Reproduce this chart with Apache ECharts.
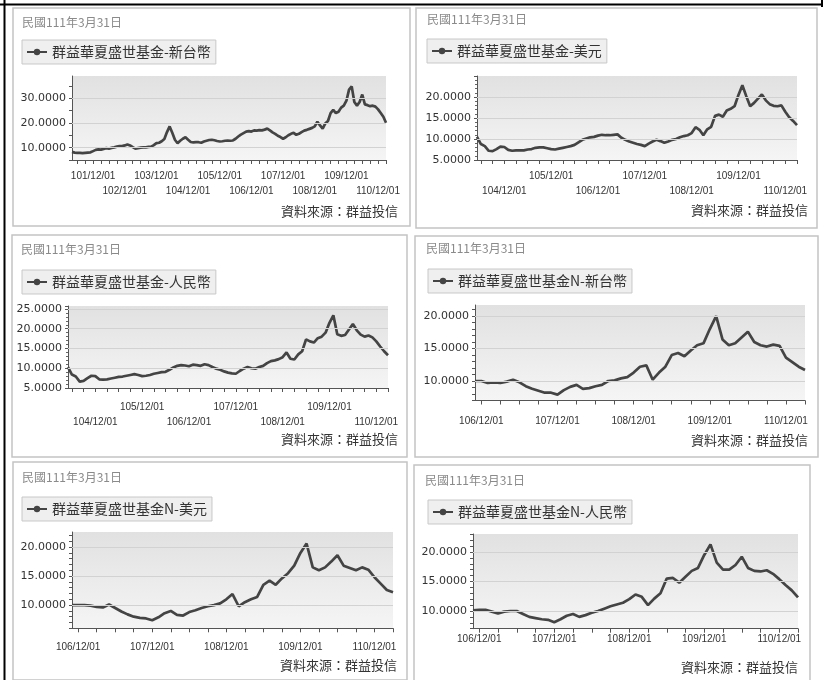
<!DOCTYPE html>
<html><head><meta charset="utf-8">
<script src="https://cdn.jsdelivr.net/npm/echarts@6/dist/echarts.min.js"></script>
<style>html,body{margin:0;padding:0;background:#fff}#c{width:825px;height:680px}</style>
</head><body><div id="c"></div>
<script>
// ---- text ----
const dateText = '民國111年3月31日';
const sourceText = '資料來源：群益投信';
const seriesNames = [
  '群益華夏盛世基金-新台幣', '群益華夏盛世基金-美元', '群益華夏盛世基金-人民幣',
  '群益華夏盛世基金N-新台幣', '群益華夏盛世基金N-美元', '群益華夏盛世基金N-人民幣'
];
// ---- category ranges (ROC year, month, count of monthly points) ----
const twdStart = [101, 4, 120];
const usdStart = [104, 5, 83];
const rmbStart = [104, 5, 83];
const nStart = [106, 11, 53];
// ---- NAV values (monthly) ----
const twdValues = [8.3,8.0,7.9,7.9,7.8,7.9,8.0,8.1, 8.6,9.1,9.3,9.2,9.5,9.8,9.6,9.9,
  10.1,10.4,10.6,10.6,10.9,11.3,10.9,10.2, 9.6,9.8,10.0,10.1,10.1,10.3,10.4,11.0,
  11.8,12.0,12.6,13.5,16.3,18.6,16.0,13.2, 11.8,12.8,13.6,14.2,13.2,12.3,12.1,12.2,
  12.2,12.0,12.5,12.8,13.1,13.2,13.0,12.7, 12.5,12.6,12.8,12.9,12.8,12.9,13.6,14.5,
  15.3,15.9,16.5,16.7,16.5,17.0,16.9,17.1, 17.0,17.3,17.7,17.0,16.2,15.6,14.8,14.3,
  13.6,14.2,15.0,15.6,16.0,15.2,15.6,16.3, 16.9,17.2,17.6,18.0,18.6,20.5,19.0,17.7,
  19.8,20.8,24.0,25.3,24.0,24.5,26.2,27.0, 29.0,33.5,34.8,28.5,27.0,28.5,31.5,27.5,
  27.2,26.8,27.0,26.6,25.5,24.0,22.5,20.1];
const usdValues = [10.5,8.8,8.3,7.2,7.1,7.6,8.2,8.1, 7.4,7.2,7.3,7.3,7.3,7.5,7.6,7.9,
  8.0,8.0,7.8,7.6,7.5,7.7,7.9,8.1, 8.3,8.6,9.2,9.8,10.1,10.4,10.5,10.8,
  11.0,10.9,10.9,11.0,11.1,10.3,9.8,9.4, 9.1,8.8,8.6,8.3,8.9,9.4,9.8,9.5,
  9.1,9.4,9.8,10.0,10.4,10.7,10.9,11.4, 12.8,12.2,10.9,12.3,12.9,15.5,15.8,15.3,
  16.8,17.2,17.8,20.5,22.8,20.2,17.8,18.6, 19.6,20.6,19.2,18.3,17.9,17.8,18.0,16.5,
  15.2,14.3,13.3];
const rmbValues = [10.3,8.4,7.9,6.6,6.8,7.5,8.1,8.0, 7.2,7.1,7.2,7.4,7.6,7.8,7.9,8.1,
  8.3,8.5,8.3,8.0,8.1,8.3,8.6,8.8, 9.0,9.1,9.6,10.2,10.6,10.8,10.7,10.5,
  10.9,10.8,10.6,11.0,10.8,10.3,9.9,9.6, 9.2,8.9,8.7,8.6,9.3,9.9,10.3,10.0,
  9.9,10.3,10.6,11.3,11.8,12.0,12.3,12.8, 14.0,12.4,12.2,13.5,14.3,17.3,16.8,16.5,
  17.6,18.0,19.0,21.5,23.4,18.6,18.2,18.4, 19.8,21.2,19.6,18.5,18.0,18.3,17.8,16.8,
  15.5,14.3,13.3];
const nTwdValues = [10.0,10.0,9.7,9.8,9.7,9.9,10.2,9.8, 9.2,8.8,8.5,8.2,8.2,7.9,8.6,9.1,
  9.4,8.8,8.9,9.2,9.4,10.0,10.1,10.4, 10.6,11.3,12.2,12.4,10.2,11.3,12.2,14.0,
  14.3,13.8,14.7,15.5,15.8,18.0,20.0,16.4, 15.5,15.8,16.7,17.6,16.0,15.5,15.3,15.6,
  15.4,13.6,12.9,12.2,11.7];
const nUsdValues = [10.0,10.0,10.0,9.9,9.7,9.6,10.1,9.5, 8.9,8.4,8.0,7.8,7.7,7.4,7.9,8.6,
  9.0,8.3,8.2,8.8,9.1,9.5,9.8,10.0, 10.3,11.0,11.9,9.8,10.5,11.0,11.4,13.5,
  14.2,13.5,14.6,15.5,16.8,19.0,20.6,16.5, 16.0,16.5,17.5,18.6,16.8,16.4,16.0,16.5,
  16.1,14.8,13.7,12.6,12.2];
const nRmbValues = [10.1,10.2,10.2,9.9,9.6,9.9,10.0,10.0, 9.5,9.0,8.8,8.6,8.5,8.1,8.6,9.2,
  9.5,9.0,9.3,9.7,10.0,10.4,10.8,11.1, 11.4,12.0,12.8,12.4,11.0,12.1,13.0,15.5,
  15.6,14.8,15.8,16.8,17.3,19.5,21.3,18.2, 17.0,17.0,17.8,19.2,17.3,16.8,16.7,16.9,
  16.3,15.4,14.4,13.5,12.3];
// ---- y axis: [min, max, tick step] and labelled tick values ----
const yRanges = [[5,39,5],[5,25,5],[5,25.75,5],[7,21.7,1],[6,22.6,1],[7,23.05,1]];
const yTicks = [[10,20,30],[5,10,15,20],[5,10,15,20,25],[10,15,20],[10,15,20],[10,15,20]];

function months(y, m, n) {
  const out = [];
  for (let i = 0; i < n; i++) {
    out.push(y + '/' + String(m).padStart(2, '0') + '/01');
    m++; if (m > 12) { m = 1; y++; }
  }
  return out;
}
const cats = [twdStart, usdStart, rmbStart, nStart, nStart, nStart].map(s => months(s[0], s[1], s[2]));
const vals = [twdValues, usdValues, rmbValues, nTwdValues, nUsdValues, nRmbValues];

// layout only
const L = [
  {box:[13,8,397,218], date:[22,22], leg:[22,40], src:[398,211], grid:[72,76,314,84], stagger:true, margin:11, minor:false},
  {box:[416,8,401,220], date:[427,19], leg:[427,39], src:[808,210], grid:[477,76,320,84], stagger:true, margin:11.5, minor:true},
  {box:[12,235,395,222], date:[21,249], leg:[22,270], src:[398,439], grid:[68,306,320,82], stagger:true, margin:14, minor:true},
  {box:[415,236,403,221], date:[426,248], leg:[428,269], src:[808,440], grid:[475,305,330,95.5], stagger:false, margin:15.5, minor:false},
  {box:[13,462,394,218], date:[22,477], leg:[22,497], src:[397,665], grid:[72,532,321,96.3], stagger:false, margin:13.5, minor:false},
  {box:[414,465,396,216], date:[425,480], leg:[428,500], src:[798,667], grid:[473,534,325,94.7], stagger:false, margin:5.5, minor:false}
];
const rowGap = 15;
const isYearLabel = v => v.slice(4,6) === '12';

const grids = [], xAxes = [], yAxes = [], series = [], legends = [], graphics = [];
L.forEach((p, i) => {
  grids.push({left:p.grid[0], top:p.grid[1], width:p.grid[2], height:p.grid[3], show:true, borderWidth:0,
    backgroundColor:{type:'linear',x:0,y:0,x2:0,y2:1,colorStops:[{offset:0,color:'#e1e1e1'},{offset:1,color:'#f5f5f5'}]}});
  const labelBase = {color:'#333', fontSize:10, fontFamily:'Liberation Sans', hideOverlap:false};
  const mainIdx = xAxes.length;
  xAxes.push({type:'category', gridIndex:i, position:'bottom', data:cats[i], boundaryGap:false,
    axisLine:{lineStyle:{color:'#555', width:1}},
    axisTick:{interval:(idx, v) => ['03','06','09','12'].includes(v.slice(4,6)), length:4, lineStyle:{color:'#555'}},
    axisLabel:Object.assign({}, labelBase, {margin:p.margin,
      interval:(idx, v) => isYearLabel(v) && (!p.stagger || parseInt(v, 10) % 2 === 1)}),
    splitLine:{show:false}});
  if (p.stagger) {
    xAxes.push({type:'category', gridIndex:i, position:'bottom', data:cats[i], boundaryGap:false,
      axisLine:{show:false}, axisTick:{show:false}, splitLine:{show:false},
      axisLabel:Object.assign({}, labelBase, {margin:p.margin + rowGap,
        interval:(idx, v) => isYearLabel(v) && parseInt(v, 10) % 2 === 0})});
  }
  const r = yRanges[i], ticks = yTicks[i];
  yAxes.push({type:'value', gridIndex:i, min:r[0], max:r[1], interval:r[2],
    axisLine:{show:true, lineStyle:{color:'#555'}},
    axisTick:{show:true, length:3, lineStyle:{color:'#555'}},
    minorTick:{show:p.minor, splitNumber:5, length:2, lineStyle:{color:'#666'}},
    splitLine:{show:false},
    axisLabel:{color:'#333', fontSize:11, fontFamily:'DejaVu Sans', margin:6, showMaxLabel:false, hideOverlap:false,
      formatter: v => ticks.some(t => Math.abs(t - v) < 1e-6) ? v.toFixed(4) : ''}});
  series.push({type:'line', name:seriesNames[i], xAxisIndex:mainIdx, yAxisIndex:i, data:vals[i],
    showSymbol:false, symbol:'circle', symbolSize:7, animation:false,
    lineStyle:{color:'#444', width:2.7}, itemStyle:{color:'#444'},
    markLine:{silent:true, symbol:'none', animation:false, label:{show:false},
      lineStyle:{color:'#d2d2d2', type:'solid', width:1}, emphasis:{disabled:true},
      data:ticks.filter(t => t > r[0]).map(t => ({yAxis:t}))}});
  legends.push({data:[seriesNames[i]], left:p.leg[0], top:p.leg[1], orient:'horizontal',
    backgroundColor:'#efefef', borderColor:'#c8c8c8', borderWidth:1, borderRadius:0,
    padding:[5,5,5,4], itemWidth:20, itemHeight:8, itemGap:0, selectedMode:false,
    textStyle:{fontSize:14, color:'#333', fontFamily:'Noto Sans CJK TC'}});
  graphics.push({type:'rect', shape:{x:p.box[0], y:p.box[1], width:p.box[2], height:p.box[3]},
    style:{fill:'none', stroke:'#c4c4c4', lineWidth:1.5}, silent:true});
  graphics.push({type:'text', x:p.date[0], y:p.date[1],
    style:{text:dateText, fill:'#8a8a8a', font:'12px "Noto Sans CJK TC"', align:'left', verticalAlign:'middle'}});
  graphics.push({type:'text', x:p.src[0], y:p.src[1],
    style:{text:sourceText, fill:'#333', font:'13px "Noto Sans CJK TC"', align:'right', verticalAlign:'middle'}});
});
graphics.push({type:'line', shape:{x1:0,y1:4.5,x2:822,y2:4.5}, style:{stroke:'#000', lineWidth:2}});
graphics.push({type:'line', shape:{x1:4.5,y1:0,x2:4.5,y2:680}, style:{stroke:'#000', lineWidth:2}});
graphics.push({type:'line', shape:{x1:822,y1:0,x2:822,y2:7}, style:{stroke:'#000', lineWidth:2}});

const chart = echarts.init(document.getElementById('c'));
chart.setOption({animation:false, backgroundColor:'#fff', grid:grids, xAxis:xAxes, yAxis:yAxes,
  series:series, legend:legends, graphic:{elements:graphics}});
</script></body></html>
